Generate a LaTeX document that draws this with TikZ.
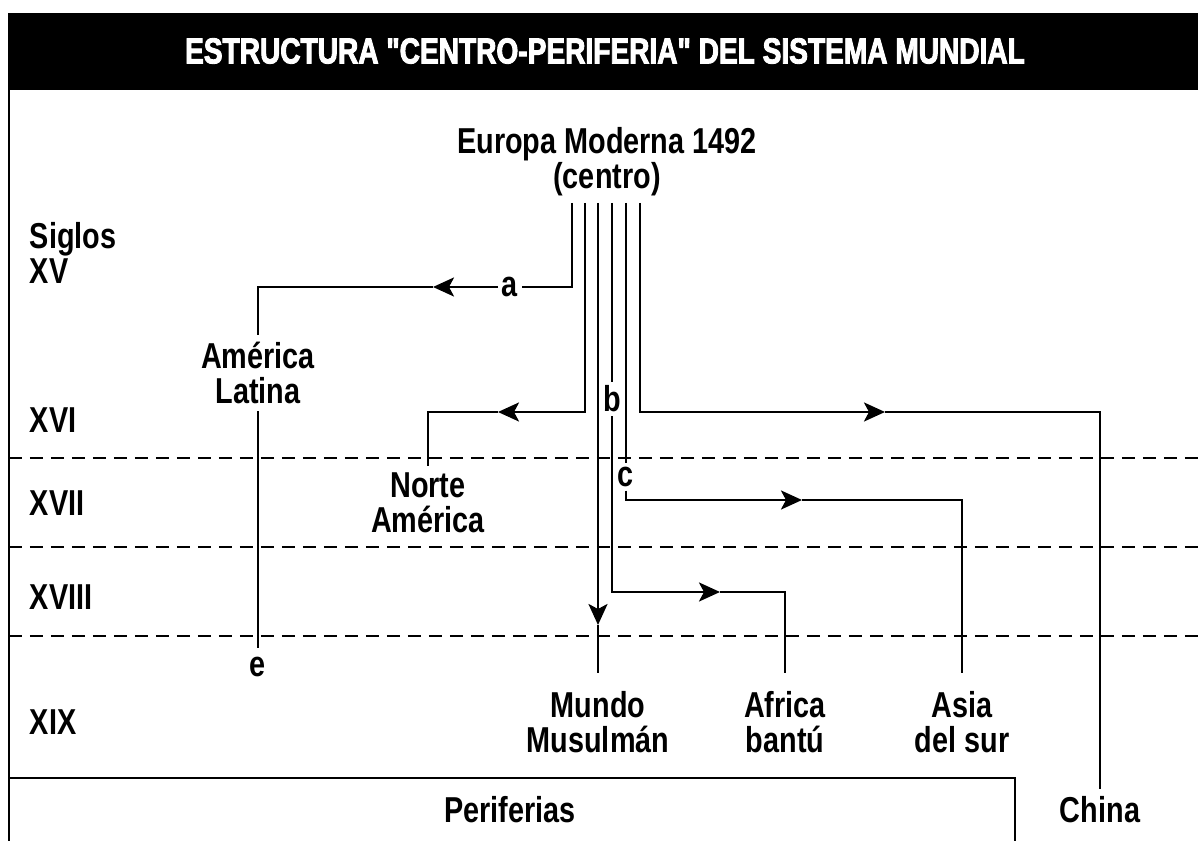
\documentclass[tikz,border=0pt]{standalone}
\usepackage{fontspec}
\setmainfont{Liberation Sans}[FakeStretch=0.8]
\newfontfamily\titlefont{Liberation Sans}[FakeStretch=0.78, FakeBold=2.5]
\usepackage{tikz}
\usetikzlibrary{arrows.meta}
\newcommand{\widthline}{1.6pt}
\newcommand{\sizetext}{\fontsize{20.5}{19.9}\selectfont}
\tikzset{
    common/.style={line width=\widthline},
    conn/.style={common, draw},
    arr/.style={conn, -{Stealth[length=0.42cm, width=0.38cm, inset=0.1cm]}},
    era/.style={line width=1.7pt, dash pattern=on 0.26cm off 0.16cm},
    place/.style={align=center, inner sep=4pt, font=\sizetext\bfseries},
    base/.style={place, inner ysep=10pt},
    century/.style={place, anchor=west, align=left, inner sep=2pt},
    letter/.style={place, inner sep=2pt}
}

\begin{document}
\begin{tikzpicture}[x=0.02cm, y=-0.02cm]
    \useasboundingbox (0,0) rectangle (1198,841);
    % title bar and frame
    \fill (8,13) rectangle (1198,90);
    \node[place, text=white, font=\titlefont\bfseries\sizetext] (title) at (605,51)
        {ESTRUCTURA "CENTRO-PERIFERIA" DEL SISTEMA MUNDIAL};
    \draw[common] (9,90) -- (9,841);
    \draw[common] (9,778) -- (1015,778) -- (1015,841);
    \foreach \y in {458,547,636}
        \draw[era] (9,\y) -- (1198,\y);

    % centuries
    \node[century] (siglos) at (26,253) {Siglos\\XV};
    \node[century] (xvi) at (26,420) {XVI};
    \node[century] (xvii) at (26,503) {XVII};
    \node[century] (xviii) at (26,597) {XVIII};
    \node[century] (xix) at (26,722) {XIX};

    % centre and peripheries
    \node[place] (centre) at (607,162) {Europa Moderna 1492\\(centro)};
    \node[place] (amlat) at (258,373) {América\\Latina};
    \node[place] (noram) at (428,503) {Norte\\América};
    \node[base] (mundo) at (598,722) {Mundo\\Musulmán};
    \node[base] (africa) at (785,722) {Africa\\bantú};
    \node[base] (asia) at (962,722) {Asia\\del sur};
    \node[place] (china) at (1100,810) {China};
    \node[place] (perif) at (510,810) {Periferias};
    \node[letter] (a) at (510,287) {a};
    \node[letter] (b) at (612,399) {b};
    \node[letter] (c) at (626,477) {c};
    \node[letter, inner sep=5pt] (e) at (258,667) {e};

    \foreach \n/\x in {1/572,2/585,3/598,4/612,5/626,6/640}
        \coordinate (s\n) at (\x,203);
    \coordinate (ta) at (433,287);
    \coordinate (tn) at (498,412);
    \coordinate (tm) at (598,625);
    \coordinate (tf) at (720,592);
    \coordinate (ts) at (802,500);
    \coordinate (tc) at (885,412);

    % a: America Latina
    \draw[conn] (s1) |- (a);
    \draw[arr] (a) -- (ta);
    \draw[conn] (ta) -| (amlat);
    \draw[conn] (amlat) -- (e);
    % Norte America
    \draw[arr] (s2) |- (tn);
    \draw[conn] (tn) -| (noram);
    % Mundo Musulman
    \draw[arr] (s3) -- (tm);
    \draw[conn] (tm) -- (mundo);
    % b: Africa
    \draw[conn] (s4) -- (b);
    \draw[arr] (b) |- (tf);
    \draw[conn] (tf) -| (africa);
    % c: Asia
    \draw[conn] (s5) -- (c);
    \draw[arr] (c) |- (ts);
    \draw[conn] (ts) -| (asia);
    % China
    \draw[arr] (s6) |- (tc);
    \draw[conn] (tc) -| (china);
\end{tikzpicture}
\end{document}
